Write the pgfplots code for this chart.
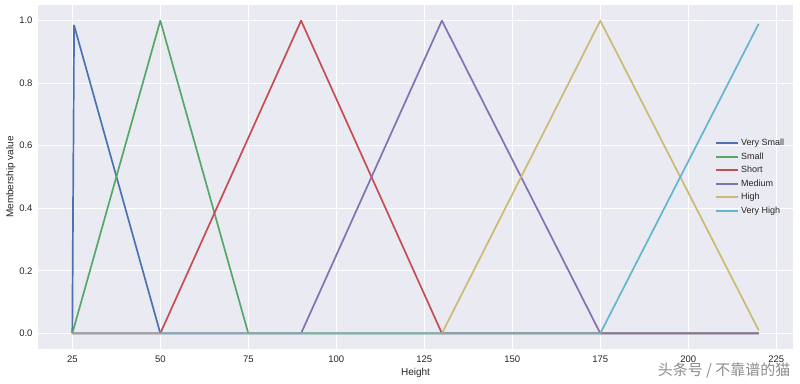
\documentclass[border=0pt]{standalone}
\usepackage{fontspec}
\setmainfont{Liberation Sans}
\newfontfamily\cjk{Noto Sans CJK SC}
\usepackage{pgfplots}
\pgfplotsset{compat=1.18}
\definecolor{sbblue}{HTML}{4C72B0}
\definecolor{sbgreen}{HTML}{55A868}
\definecolor{sbred}{HTML}{C44E52}
\definecolor{sbpurple}{HTML}{8172B2}
\definecolor{sbyellow}{HTML}{CCB974}
\definecolor{sbcyan}{HTML}{64B5CD}
\definecolor{sbbg}{HTML}{EAEAF2}
\definecolor{sbtext}{HTML}{262626}
\begin{document}
\begin{tikzpicture}
\useasboundingbox (-38pt,-34pt) rectangle (762pt,349pt);
\begin{axis}[
  at={(0pt,0pt)}, anchor=south west,
  scale only axis, width=755pt, height=344pt,
  xmin=15.25, xmax=229.75, ymin=-0.05, ymax=1.05,
  axis background/.style={fill=sbbg},
  axis line style={draw=none},
  major tick length=0pt,
  xtick={25,50,...,225}, ytick={0,0.2,...,1.0},
  grid=major, grid style={white, line width=0.9pt},
  yticklabel style={/pgf/number format/fixed, /pgf/number format/fixed zerofill, /pgf/number format/precision=1, xshift=-2pt},
  /pgf/number format/assume math mode=true,
  ticklabel style={font=\fontsize{9.5}{11}\selectfont, text=sbtext},
  xticklabel style={yshift=-3pt},
  xlabel={Height}, ylabel={Membership value},
  label style={font=\fontsize{10}{12}\selectfont, text=sbtext},
  xlabel style={yshift=1pt},
  ylabel style={yshift=-3pt},
  legend style={at={(rel axis cs:0.995,0.5)}, anchor=east, draw=none, fill=none,
    font=\fontsize{9}{11}\selectfont, text=sbtext, row sep=1.5pt},
  legend cell align=left,
  legend image code/.code={\draw[#1, line width=1.7pt] (0pt,0pt) -- (22pt,0pt);},
]
\addplot[sbblue, line width=1.7pt, line join=round] coordinates {(25,0) (25.5,0.985) (50,0) (220,0)};
\addlegendentry{Very Small}
\addplot[sbgreen, line width=1.7pt, line join=round] coordinates {(25,0) (50,1) (75,0) (220,0)};
\addlegendentry{Small}
\addplot[sbred, line width=1.7pt, line join=round] coordinates {(25,0) (50,0) (90,1) (130,0) (220,0)};
\addlegendentry{Short}
\addplot[sbpurple, line width=1.7pt, line join=round] coordinates {(25,0) (90,0) (130,1) (175,0) (220,0)};
\addlegendentry{Medium}
\addplot[sbyellow, line width=1.7pt, line join=round] coordinates {(25,0) (130,0) (175,1) (220,0.01)};
\addlegendentry{High}
\addplot[sbcyan, line width=1.7pt, line join=round] coordinates {(25,0) (175,0) (220,0.99)};
\addlegendentry{Very High}
\end{axis}
\node[anchor=east, text=black!45, font=\cjk\fontsize{15}{17}\selectfont] at (756pt,-22pt) {头条号 / 不靠谱的猫};
\end{tikzpicture}
\end{document}
